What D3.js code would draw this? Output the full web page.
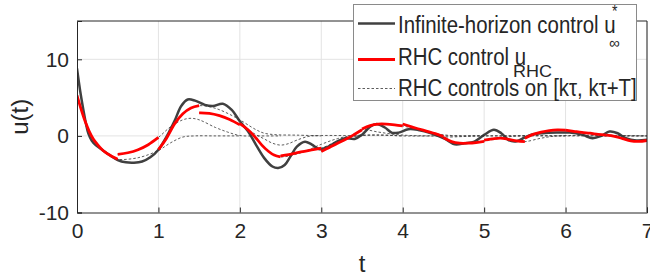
<!DOCTYPE html>
<html>
<head>
<meta charset="utf-8">
<script src="https://cdn.jsdelivr.net/npm/d3@7"></script>
<style>
  html, body { margin: 0; padding: 0; background: #fff; }
  svg { display: block; }
  text { font-family: "Liberation Sans", Arial, Helvetica, sans-serif; fill: #262626; }
</style>
</head>
<body>
<svg id="chart" width="650" height="280"></svg>
<script>
// ---------- data ----------
const xTicks = [0, 1, 2, 3, 4, 5, 6, 7];
const yTicks = [-10, 0, 10];
const xDomain = [0, 7];
const yDomain = [-10, 15];

// infinite-horizon control u*_inf : [t, u]
const infiniteControl = [
  [0,8.8],[0.04,5.8],[0.08,3.3],[0.11,1.6],[0.14,0.3],[0.18,-0.6],[0.23,-1.2],[0.3,-1.75],
  [0.4,-2.5],[0.5,-3.15],[0.6,-3.45],[0.7,-3.5],[0.8,-3.35],[0.9,-2.8],[1.0,-1.8],[1.1,-0.1],
  [1.2,2.0],[1.28,3.9],[1.36,4.75],[1.45,4.6],[1.57,4.05],[1.67,3.9],[1.79,4.2],[1.9,3.4],
  [2.0,1.9],[2.1,0.6],[2.2,-1.2],[2.3,-2.9],[2.4,-4.0],[2.47,-4.2],[2.55,-3.8],[2.62,-2.7],
  [2.7,-1.4],[2.8,-0.75],[2.88,-1.1],[2.98,-1.75],[3.08,-1.45],[3.19,-0.75],[3.29,-0.3],
  [3.41,-0.4],[3.5,0.15],[3.6,1.2],[3.68,1.55],[3.78,1.1],[3.87,0.4],[3.95,0.43],[4.07,0.87],
  [4.19,0.78],[4.35,0.35],[4.52,-0.4],[4.64,-1.1],[4.76,-0.96],[4.88,-0.74],[5.0,0.13],
  [5.12,0.8],[5.21,0.35],[5.3,-0.55],[5.4,-0.7],[5.5,-0.2],[5.58,0.15],[5.72,0.35],[5.89,0.43],
  [6.05,0.43],[6.21,0.13],[6.33,-0.3],[6.44,0.0],[6.54,0.56],[6.64,0.35],[6.74,-0.3],
  [6.87,-0.6],[7.0,-0.5]
];

// RHC solutions on [k*tau, k*tau+T] : [t, u]
const rhcSolutions = [
  [[0,5.3],[0.05,3.5],[0.1,1.9],[0.15,0.6],[0.2,-0.4],[0.25,-1.1],[0.3,-1.7],[0.35,-2.15],[0.4,-2.5],[0.45,-2.8],[0.5,-3.05],[0.75,-2.85],[1.0,-1.9],[1.15,-0.9],[1.3,-0.15],[1.45,0.0],[1.7,0.0],[2.0,0.0]],
  [[0.5,-2.4],[0.625,-2.2],[0.75,-1.8],[0.875,-1.15],[1.0,-0.2],[1.15,1.2],[1.3,2.1],[1.4,2.3],[1.5,2.1],[1.7,1.1],[1.85,0.5],[2.0,0.05],[2.25,0],[2.5,0]],
  [[1.0,-1.8],[1.1,-0.3],[1.2,1.6],[1.3,2.9],[1.4,3.65],[1.5,3.95],[1.7,3.6],[1.95,2.4],[2.2,0.8],[2.3,0.35],[2.45,0.15],[2.7,0.1],[3.0,0]],
  [[1.5,3.0],[1.625,2.95],[1.75,2.65],[1.875,2.15],[2.0,1.45],[2.1,0.8],[2.2,0.15],[2.3,-0.4],[2.4,-0.95],[2.5,-1.2],[2.6,-1.0],[2.7,-0.55],[2.85,-0.05],[3.0,0.05],[3.5,0]],
  [[2.0,1.6],[2.1,0.8],[2.2,-0.3],[2.27,-1.2],[2.35,-2.0],[2.42,-2.5],[2.5,-2.75],[2.75,-2.2],[3.0,-1.1],[3.2,-0.35],[3.4,0.05],[3.7,0.1],[4.0,0]],
  [[2.5,-2.6],[2.6,-2.45],[2.75,-2.1],[2.9,-1.8],[3.0,-1.6],[3.2,-0.7],[3.4,-0.1],[3.6,0.1],[3.8,0.1],[4.0,0],[4.5,0]],
  [[3.0,-2.05],[3.1,-1.5],[3.2,-0.95],[3.3,-0.45],[3.4,0.15],[3.5,0.8],[3.7,0.5],[3.9,0.2],[4.1,0.05],[4.5,0],[5.0,0]],
  [[3.5,0.9],[3.6,1.35],[3.7,1.55],[3.8,1.55],[3.9,1.45],[4.0,1.3],[4.2,0.8],[4.4,0.3],[4.6,0.05],[5.0,0],[5.5,0]],
  [[4.0,1.55],[4.1,1.2],[4.2,0.9],[4.3,0.6],[4.4,0.3],[4.5,-0.1],[4.7,-0.1],[4.9,0],[5.5,0],[6.0,0]],
  [[4.5,-0.2],[4.6,-0.74],[4.7,-0.95],[4.8,-0.95],[4.9,-0.87],[5.0,-0.7],[5.2,-0.3],[5.4,0],[6.0,0],[6.5,0]],
  [[5.0,-0.55],[5.1,-0.4],[5.2,-0.3],[5.3,-0.45],[5.4,-0.65],[5.5,-0.75],[5.7,-0.3],[5.9,0],[6.5,0],[7.0,0]],
  [[5.5,-0.3],[5.6,0.2],[5.7,0.5],[5.8,0.7],[5.9,0.78],[6.0,0.75],[6.2,0.4],[6.4,0.1],[6.7,0],[7.0,0]],
  [[6.0,0.75],[6.1,0.6],[6.2,0.45],[6.3,0.35],[6.4,0.2],[6.5,0.1],[6.7,0.05],[7.0,0]],
  [[6.5,0.1],[6.6,-0.05],[6.7,-0.35],[6.8,-0.65],[6.9,-0.72],[7.0,-0.6]]
];
// end of the applied part of each RHC solution
const appliedEnds = [0.5, 1.0, 1.5, 2.0, 2.5, 3.0, 3.5, 4.0, 4.5, 5.0, 5.5, 6.0, 6.5, 7.0];

const legendLabels = ["Infinite-horizon control u", "RHC control u", "RHC controls on [k\u03C4, k\u03C4+T]"];

// ---------- layout ----------
const L = 77, R = 647, T = 21, B = 212.5;
const svg = d3.select("#chart");
const x = d3.scaleLinear().domain(xDomain).range([L, R]);
const y = d3.scaleLinear().domain(yDomain).range([B, T]);

// grid
const grid = svg.append("g");
grid.selectAll("line.gx").data(xTicks.filter(d => d > 0)).join("line")
  .attr("x1", d => x(d)).attr("x2", d => x(d)).attr("y1", T).attr("y2", B)
  .attr("stroke", "#e3e3e3").attr("stroke-width", 1);
grid.selectAll("line.gy").data(yTicks.filter(d => d > -10)).join("line")
  .attr("x1", L).attr("x2", R).attr("y1", d => y(d)).attr("y2", d => y(d))
  .attr("stroke", "#e3e3e3").attr("stroke-width", 1);

// clip
svg.append("clipPath").attr("id", "clip").append("rect")
  .attr("x", L).attr("y", T).attr("width", R - L).attr("height", B - T);
const plot = svg.append("g").attr("clip-path", "url(#clip)");

const line = d3.line().x(d => x(d[0])).y(d => y(d[1])).curve(d3.curveCatmullRom.alpha(0.5));

plot.append("path").datum(infiniteControl).attr("d", line)
  .attr("fill", "none").attr("stroke", "#404040").attr("stroke-width", 2.5);

plot.selectAll("path.dot").data(rhcSolutions).join("path").attr("class", "dot")
  .attr("d", line).attr("fill", "none").attr("stroke", "#333").attr("stroke-width", 0.8)
  .attr("stroke-dasharray", "2.5,2");

plot.selectAll("path.red").data(rhcSolutions.map((s, i) => s.filter(p => p[0] <= appliedEnds[i] + 1e-9)))
  .join("path").attr("class", "red")
  .attr("d", line).attr("fill", "none").attr("stroke", "#ff0000").attr("stroke-width", 2.8);

// axes
const axisColor = "#262626";
const fmt = d => String(d);
const xAxis = svg.append("g").attr("transform", `translate(0,${B})`)
  .call(d3.axisBottom(x).tickValues(xTicks).tickSize(-5).tickPadding(11).tickFormat(fmt));
const yAxis = svg.append("g").attr("transform", `translate(${L},0)`)
  .call(d3.axisLeft(y).tickValues(yTicks).tickSize(-5).tickPadding(8).tickFormat(fmt));
[xAxis, yAxis].forEach(a => {
  a.select(".domain").attr("stroke", axisColor).attr("stroke-width", 1);
  a.selectAll(".tick line").attr("stroke", axisColor);
  a.selectAll(".tick text").attr("font-size", 21).attr("fill", axisColor)
    .style("font-family", '"Liberation Sans", Arial, sans-serif');
});
// box top and right
svg.append("line").attr("x1", L).attr("x2", R).attr("y1", T).attr("y2", T).attr("stroke", axisColor);
svg.append("line").attr("x1", R).attr("x2", R).attr("y1", T).attr("y2", B).attr("stroke", axisColor);

// axis labels
svg.append("text").attr("x", x(3.5)).attr("y", 272).attr("text-anchor", "middle")
  .attr("font-size", 24).text("t");
svg.append("text").attr("transform", `translate(28,${(T + B) / 2}) rotate(-90)`)
  .attr("text-anchor", "middle").attr("font-size", 24).text("u(t)");

// legend
const lg = svg.append("g");
lg.append("rect").attr("x", 353.5).attr("y", 4.5).attr("width", 283).attr("height", 96)
  .attr("fill", "#fff").attr("stroke", "#8a8a8a").attr("stroke-width", 1);
const rows = [23.5, 59.5, 88.5];
const baselines = [33, 65, 96];
lg.append("line").attr("x1", 358).attr("x2", 395).attr("y1", rows[0]).attr("y2", rows[0])
  .attr("stroke", "#404040").attr("stroke-width", 2.5);
lg.append("line").attr("x1", 358).attr("x2", 395).attr("y1", rows[1]).attr("y2", rows[1])
  .attr("stroke", "#ff0000").attr("stroke-width", 2.8);
lg.append("line").attr("x1", 358).attr("x2", 395).attr("y1", rows[2]).attr("y2", rows[2])
  .attr("stroke", "#333").attr("stroke-width", 0.8).attr("stroke-dasharray", "2.5,2");
legendLabels.forEach((s, i) => {
  lg.append("text").attr("transform", `translate(398,${baselines[i]}) scale(1,1.2)`)
    .attr("font-size", 20.4).text(s);
});
lg.append("text").attr("transform", "translate(612,17) scale(1,1.15)").attr("font-size", 14).text("*");
lg.append("text").attr("transform", "translate(609,48)").attr("font-size", 15).text("\u221E");
lg.append("text").attr("transform", "translate(513,76.5) scale(1,0.92)").attr("font-size", 18).text("RHC");
</script>
</body>
</html>
